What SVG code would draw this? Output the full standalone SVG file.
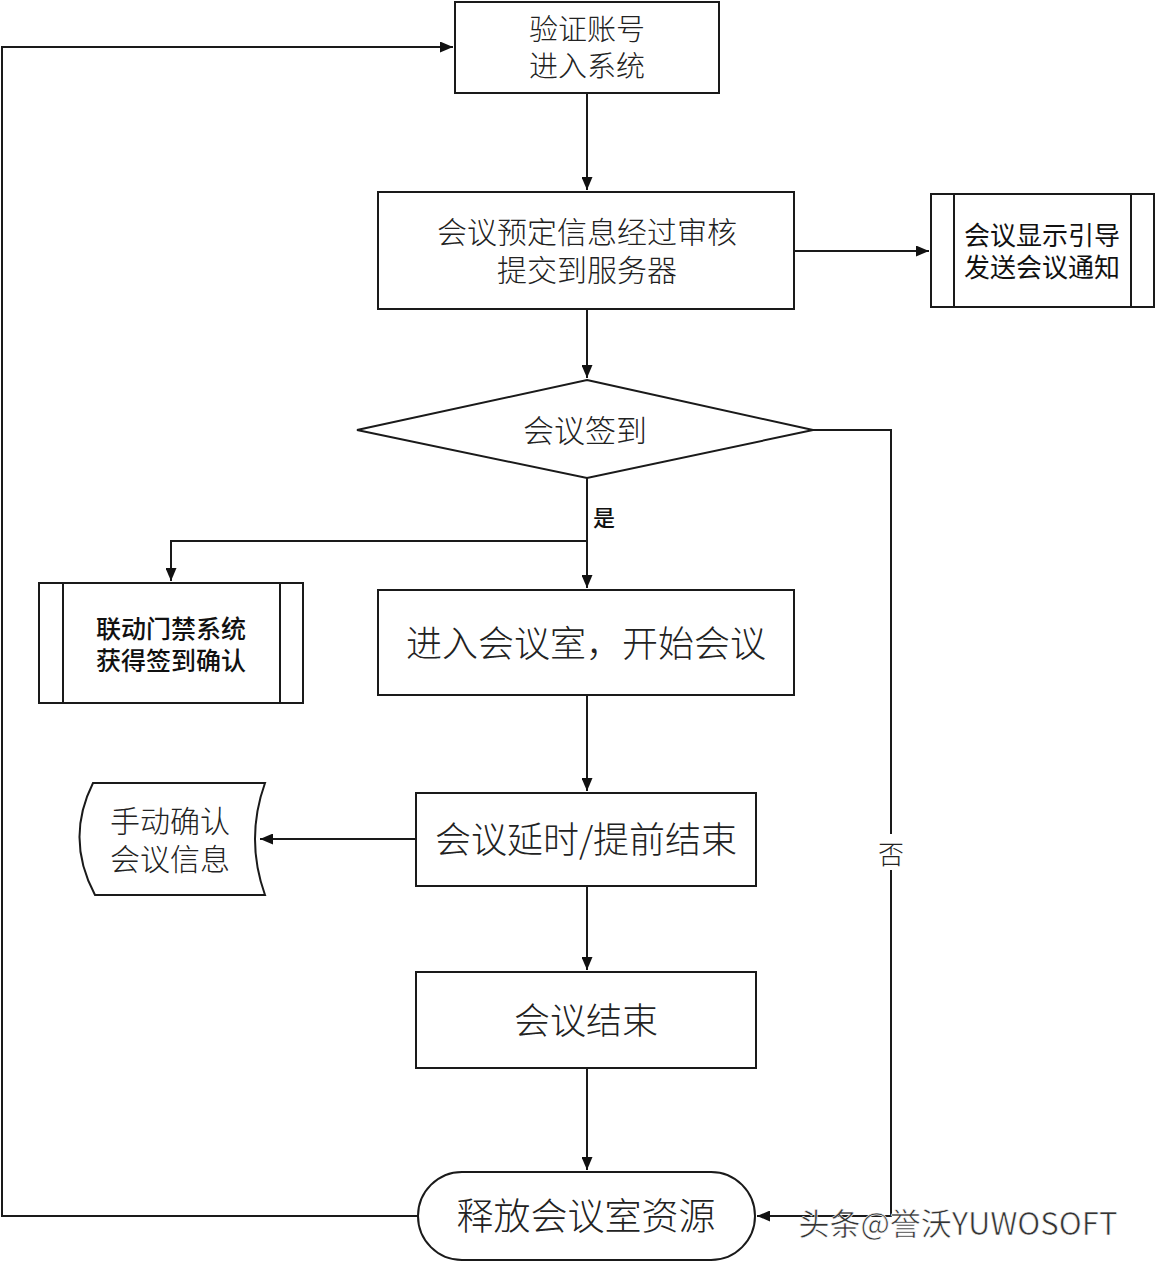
<svg xmlns="http://www.w3.org/2000/svg" width="1156" height="1262" viewBox="0 0 1156 1262">
<defs>
<marker id="arr" viewBox="0 0 13 11" refX="13" refY="5.5" markerWidth="13" markerHeight="11" markerUnits="userSpaceOnUse" orient="auto">
<path d="M0,0 L13,5.5 L0,11 z" fill="#111"/>
</marker>
<style>
.s{fill:#fff;stroke:#1a1a1a;stroke-width:2}
.c{fill:none;stroke:#1a1a1a;stroke-width:2}
.t{font-family:"Noto Sans CJK SC","Liberation Serif",serif;fill:#222;text-anchor:middle;dominant-baseline:central;font-weight:300}
.b{font-family:"Noto Sans CJK SC","Liberation Sans",sans-serif;fill:#111;text-anchor:middle;dominant-baseline:central;font-weight:500}
.r{font-family:"Noto Sans CJK SC","Liberation Sans",sans-serif;fill:#111;text-anchor:middle;dominant-baseline:central;font-weight:400}
</style>
</defs>
<rect width="1156" height="1262" fill="#fff"/>
<g id="connectors">
<path class="c" d="M587,93 V190" marker-end="url(#arr)"/>
<path class="c" d="M794,251 H929" marker-end="url(#arr)"/>
<path class="c" d="M587,309 V378" marker-end="url(#arr)"/>
<path class="c" d="M587,478 V588" marker-end="url(#arr)"/>
<path class="c" d="M587,541 H171 V581" marker-end="url(#arr)"/>
<path class="c" d="M587,695 V791" marker-end="url(#arr)"/>
<path class="c" d="M416,839 H260" marker-end="url(#arr)"/>
<path class="c" d="M587,886 V970" marker-end="url(#arr)"/>
<path class="c" d="M587,1068 V1170" marker-end="url(#arr)"/>
<path class="c" d="M813,430 H891 V1216 H757" marker-end="url(#arr)"/>
<path class="c" d="M418,1216 H2 V47 H453" marker-end="url(#arr)"/>
<rect x="876" y="834" width="30" height="36" fill="#fff"/>
<text class="t" x="891" y="852" font-size="26">否</text>
<text class="b" x="604" y="516" font-size="22">是</text>
</g>
<g id="n1">
<rect class="s" x="455" y="2" width="264" height="91"/>
<text class="t" x="587" y="27" font-size="29">验证账号</text>
<text class="t" x="587" y="64" font-size="29">进入系统</text>
</g>
<g id="n2">
<rect class="s" x="378" y="192" width="416" height="117"/>
<text class="t" x="587" y="230" font-size="30">会议预定信息经过审核</text>
<text class="t" x="587" y="268" font-size="30">提交到服务器</text>
</g>
<g id="n3">
<rect class="s" x="931" y="194" width="223" height="113"/>
<path class="c" d="M954,194 V307 M1131,194 V307"/>
<text class="r" x="1042" y="233" font-size="26">会议显示引导</text>
<text class="r" x="1042" y="265" font-size="26">发送会议通知</text>
</g>
<g id="n4">
<path class="s" d="M587,380 L813,430 L587,478 L357,430 Z"/>
<text class="t" x="585" y="428" font-size="31">会议签到</text>
</g>
<g id="n5">
<rect class="s" x="39" y="583" width="264" height="120"/>
<path class="c" d="M63,583 V703 M280,583 V703"/>
<text class="b" x="171" y="627" font-size="25">联动门禁系统</text>
<text class="b" x="171" y="659" font-size="25">获得签到确认</text>
</g>
<g id="n6">
<rect class="s" x="378" y="590" width="416" height="105"/>
<text class="t" x="586" y="641" font-size="36">进入会议室，开始会议</text>
</g>
<g id="n7">
<rect class="s" x="416" y="793" width="340" height="93"/>
<text class="t" x="586" y="837" font-size="36">会议延时/提前结束</text>
</g>
<g id="n8">
<path class="s" d="M93,783 H265 Q245,839 265,895 H95 Q65,839 93,783 Z"/>
<text class="t" x="170" y="819" font-size="30">手动确认</text>
<text class="t" x="170" y="857" font-size="30">会议信息</text>
</g>
<g id="n9">
<rect class="s" x="416" y="972" width="340" height="96"/>
<text class="t" x="586" y="1018" font-size="36">会议结束</text>
</g>
<g id="n10">
<rect class="s" x="418" y="1172" width="337" height="88" rx="44" ry="44"/>
<text class="t" x="586" y="1214" font-size="37">释放会议室资源</text>
</g>
<text x="958" y="1221" font-family="'Noto Sans CJK SC','Liberation Sans',sans-serif" font-size="31" fill="#333" stroke="#fff" stroke-width="0.6" text-anchor="middle" dominant-baseline="central">头条@誉沃YUWOSOFT</text>
</svg>
